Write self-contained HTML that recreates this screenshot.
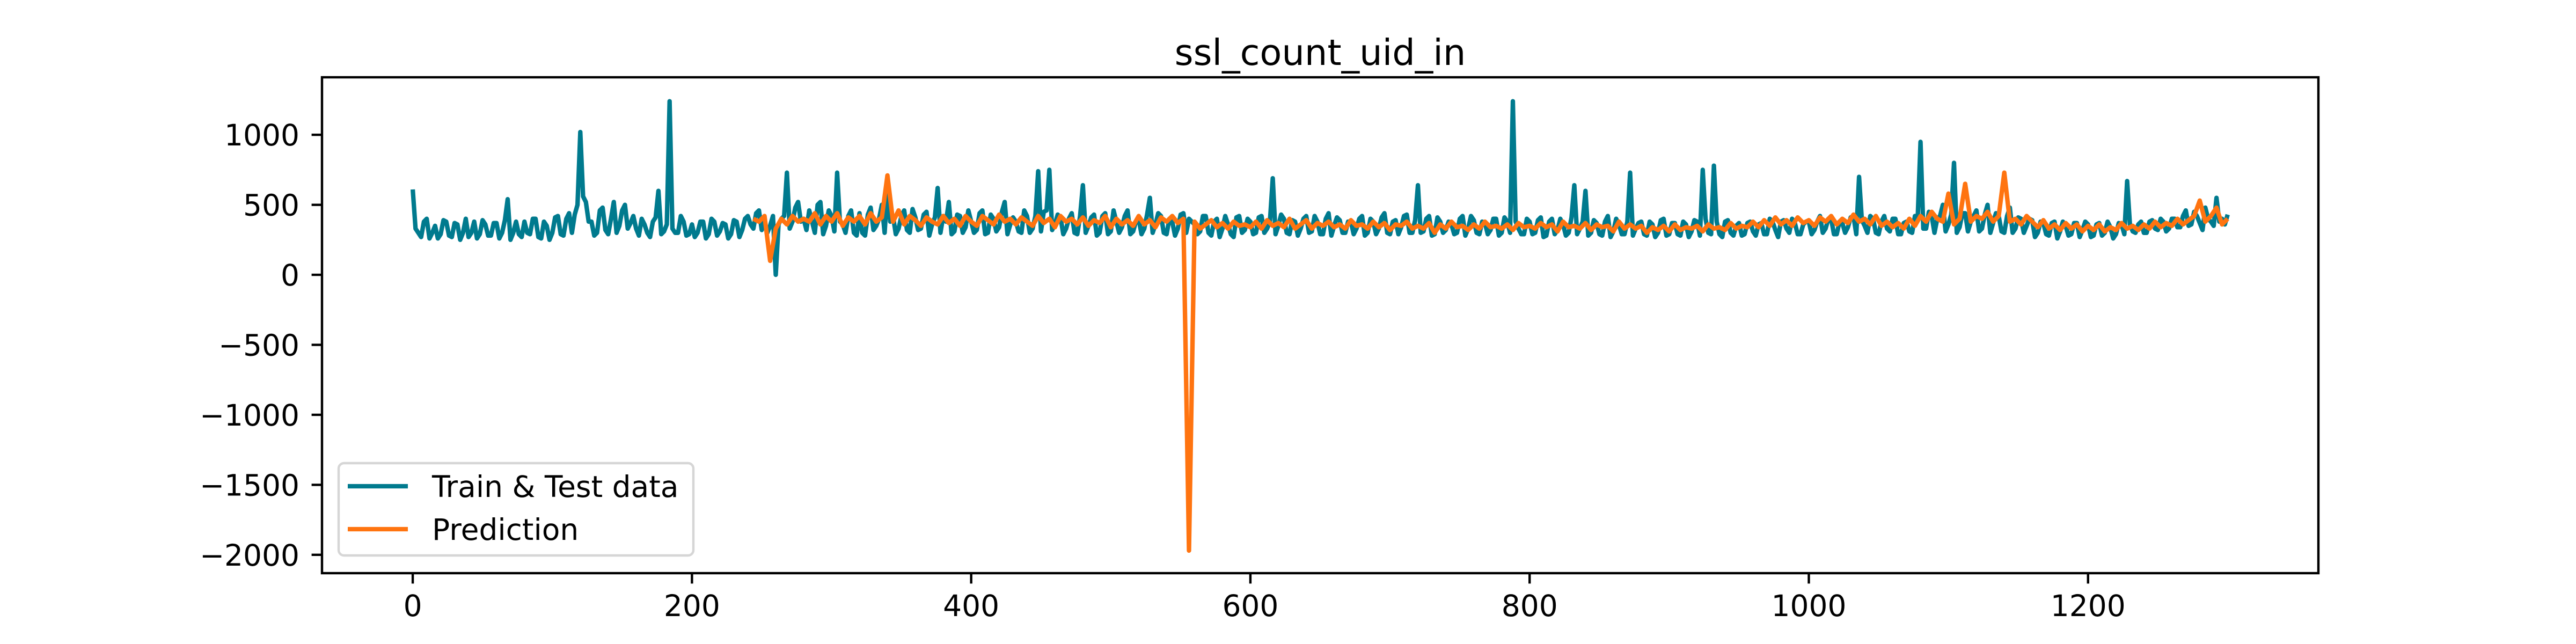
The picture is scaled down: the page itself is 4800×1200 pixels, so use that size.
<!DOCTYPE html>
<html>
<head>
<meta charset="utf-8">
<style>
  html, body { margin: 0; padding: 0; background: #ffffff; }
  svg { display: block; }
  text { font-family: "DejaVu Sans", "Liberation Sans", sans-serif; fill: #000; }
</style>
</head>
<body>
<svg id="chart" xmlns="http://www.w3.org/2000/svg" width="4800" height="1200" viewBox="0 0 4800 1200">
  <rect x="0" y="0" width="4800" height="1200" fill="#ffffff"/>
  <text x="2460" y="121" font-size="67" text-anchor="middle">ssl_count_uid_in</text>
  <defs><clipPath id="plotclip"><rect x="600" y="144" width="3720" height="924"/></clipPath></defs>
  <g id="series" clip-path="url(#plotclip)"></g>
  <g id="xaxis"></g>
  <g id="yaxis"></g>
  <rect x="600" y="144" width="3720" height="924" fill="none" stroke="#000" stroke-width="4.4"/>
  <g>
    <rect x="631" y="863" width="661" height="172" rx="10" fill="#ffffff" fill-opacity="0.8" stroke="#d6d6d6" stroke-width="4.4"/>
    <line x1="648" y1="906" x2="760" y2="906" stroke="#007a8e" stroke-width="8.3"/>
    <text x="805" y="926" font-size="55">Train &amp; Test data</text>
    <line x1="648" y1="986" x2="760" y2="986" stroke="#ff7410" stroke-width="8.3"/>
    <text x="805" y="1006" font-size="55">Prediction</text>
  </g>
</svg>
<script>
const trainStart = 0;
const trainEvenValues = [
610,300,380,260,350,290,380,270,360,300,
270,380,290,360,280,370,300,540,300,290,
380,290,400,260,350,300,420,280,440,430,
1020,520,380,300,480,290,520,350,500,370,
330,400,300,380,600,310,1240,300,420,280,
360,300,380,290,380,310,360,290,380,320,
420,330,460,380,350,0,400,730,380,520,
400,460,300,520,350,420,730,360,420,300,
440,280,480,350,500,620,420,330,460,300,
410,330,450,360,620,420,520,310,420,340,
380,320,460,300,400,340,520,360,380,300,
420,330,740,450,750,360,410,330,440,290,
640,350,430,300,440,310,380,340,460,310,
400,330,550,360,420,290,380,330,440,400,
360,310,420,280,400,330,360,270,420,320,
380,300,420,330,690,350,400,290,380,330,
420,310,380,290,440,350,390,300,380,330,
420,300,380,330,440,290,390,340,430,300,
640,310,420,290,380,320,360,300,420,330,
390,290,370,320,400,300,380,1240,330,290,
380,300,410,280,400,320,360,300,640,330,
600,300,370,280,420,310,360,290,730,330,
380,280,360,300,400,290,370,280,360,310,
380,750,300,780,290,380,300,350,280,370,
310,360,290,400,320,380,330,400,290,360,
380,320,420,330,400,290,370,340,420,700,
350,420,300,380,330,400,290,370,310,420,
950,330,420,400,500,360,800,340,440,380,
460,330,500,370,420,300,480,330,400,350,
390,300,370,280,380,310,350,290,370,320,
360,280,370,300,340,290,360,670,310,360,
300,380,330,400,310,400,340,420,350,450,
370,480,380,550,400,430
];
const trainOddValues = [
330,270,400,300,260,390,280,370,250,400,
300,260,390,280,370,260,390,250,380,270,
300,400,270,380,250,410,290,400,300,500,
560,380,280,460,320,400,300,460,330,420,
280,360,270,410,290,360,330,300,380,290,
270,380,260,400,280,370,260,390,270,400,
360,440,320,300,420,360,420,330,480,380,
320,380,500,290,460,310,380,300,460,280,
300,430,320,400,300,380,290,420,320,470,
320,430,280,410,300,380,290,430,300,460,
300,440,290,430,310,450,290,410,310,460,
300,420,310,460,320,430,290,400,300,420,
300,410,280,420,290,460,300,420,290,380,
290,430,300,440,300,400,280,430,300,380,
290,420,300,380,270,420,290,410,300,400,
290,410,300,380,290,430,300,390,280,400,
300,420,290,400,280,410,300,380,290,400,
280,400,290,410,300,380,290,420,300,390,
300,400,280,410,300,380,290,400,280,420,
300,380,290,400,280,410,300,380,290,400,
290,390,270,380,290,400,280,410,290,380,
280,390,290,380,270,400,290,380,280,370,
290,380,270,390,280,370,290,380,270,390,
280,400,290,380,270,390,280,370,290,380,
280,370,290,380,270,390,300,370,290,380,
290,380,300,400,290,380,300,410,290,390,
300,400,290,420,310,400,290,380,300,410,
330,450,300,420,310,430,300,440,310,420,
310,430,300,440,310,420,300,410,300,400,
270,380,290,370,260,380,280,370,270,380,
270,360,280,380,260,370,290,360,300,380,
300,390,320,380,330,400,340,460,360,420,
320,400,350,380,360
];
const predStart = 244;
const predStep = 4;
const predValues = [
400,380,420,100,330,400,360,420,380,
400,380,440,360,420,380,440,350,410,380,
420,360,440,380,410,710,380,460,360,420,
390,350,410,380,360,420,370,400,350,420,
380,350,420,390,360,430,380,400,360,410,
380,350,420,370,400,340,420,380,400,360,
410,350,390,370,420,340,400,360,390,350,
420,360,390,340,410,380,420,370,400,-1970,
380,330,360,390,340,370,330,380,350,360,
340,380,330,390,350,370,340,400,330,360,
390,330,370,350,380,340,360,330,390,350,
360,330,380,340,370,320,360,350,380,330,
350,330,370,300,360,330,380,340,350,320,
360,330,380,340,350,330,360,320,370,340,
350,330,370,340,360,310,380,340,350,330,
370,320,360,340,350,310,380,330,360,330,
350,300,340,320,350,310,360,320,340,330,
350,310,360,330,340,320,370,330,350,340,
380,340,390,350,410,360,390,350,410,370,
390,350,410,380,420,360,400,370,430,380,
400,360,420,350,380,340,370,330,400,350,
420,380,450,400,380,580,360,400,650,380,
420,400,450,380,420,730,380,400,360,420,
380,340,390,330,360,320,370,330,360,310,
350,320,360,310,340,320,370,330,350,320,
360,330,380,340,370,350,400,360,390,420,
530,380,420,480,360,400
];
const xTicks = [0, 200, 400, 600, 800, 1000, 1200];
const yTicks = [1000, 500, 0, -500, -1000, -1500, -2000];

const NS = 'http://www.w3.org/2000/svg';
const X0 = 600, X1 = 4320, Y0 = 144, Y1 = 1068;
const xMin = -65, xMax = 1365, yMin = -2131, yMax = 1411;
function xs(v) { return X0 + (v - xMin) / (xMax - xMin) * (X1 - X0); }
function ys(v) { return Y1 - (v - yMin) / (yMax - yMin) * (Y1 - Y0); }

// merge even (x=4i) and odd (x=4i+2) samples of the train series
const trainPts = [];
for (let i = 0; i < trainEvenValues.length; i++) {
  trainPts.push([trainStart + i * 4, trainEvenValues[i]]);
  if (i < trainOddValues.length) trainPts.push([trainStart + i * 4 + 2, trainOddValues[i]]);
}
const predPts = predValues.map((v, i) => [predStart + i * predStep, v]);

const series = document.getElementById('series');
function drawLine(pts, color, name) {
  const p = pts.map(d => xs(d[0]).toFixed(1) + ',' + ys(d[1]).toFixed(1)).join(' ');
  const pl = document.createElementNS(NS, 'polyline');
  pl.setAttribute('points', p);
  pl.setAttribute('fill', 'none');
  pl.setAttribute('stroke', color);
  pl.setAttribute('stroke-width', '8.3');
  pl.setAttribute('stroke-linejoin', 'round');
  
  
  series.appendChild(pl);
}
drawLine(trainPts, '#007a8e', 'train-test-line');
drawLine(predPts, '#ff7410', 'prediction-line');

const xaxis = document.getElementById('xaxis');
xTicks.forEach(t => {
  const x = xs(t);
  const ln = document.createElementNS(NS, 'line');
  ln.setAttribute('x1', x); ln.setAttribute('x2', x);
  ln.setAttribute('y1', Y1); ln.setAttribute('y2', Y1 + 19.4);
  ln.setAttribute('stroke', '#000'); ln.setAttribute('stroke-width', '4.4');
  
  
  xaxis.appendChild(ln);
  const tx = document.createElementNS(NS, 'text');
  tx.setAttribute('x', x); tx.setAttribute('y', Y1 + 80);
  tx.setAttribute('font-size', '55'); tx.setAttribute('text-anchor', 'middle');
  tx.textContent = String(t);
  
  
  xaxis.appendChild(tx);
});
const yaxis = document.getElementById('yaxis');
yTicks.forEach(t => {
  const y = ys(t);
  const ln = document.createElementNS(NS, 'line');
  ln.setAttribute('x1', X0 - 19.4); ln.setAttribute('x2', X0);
  ln.setAttribute('y1', y); ln.setAttribute('y2', y);
  ln.setAttribute('stroke', '#000'); ln.setAttribute('stroke-width', '4.4');
  
  
  yaxis.appendChild(ln);
  const tx = document.createElementNS(NS, 'text');
  tx.setAttribute('x', X0 - 42); tx.setAttribute('y', y + 20);
  tx.setAttribute('font-size', '55'); tx.setAttribute('text-anchor', 'end');
  tx.textContent = (t < 0 ? '\u2212' + Math.abs(t) : String(t));
  
  
  yaxis.appendChild(tx);
});
</script>
</body>
</html>
